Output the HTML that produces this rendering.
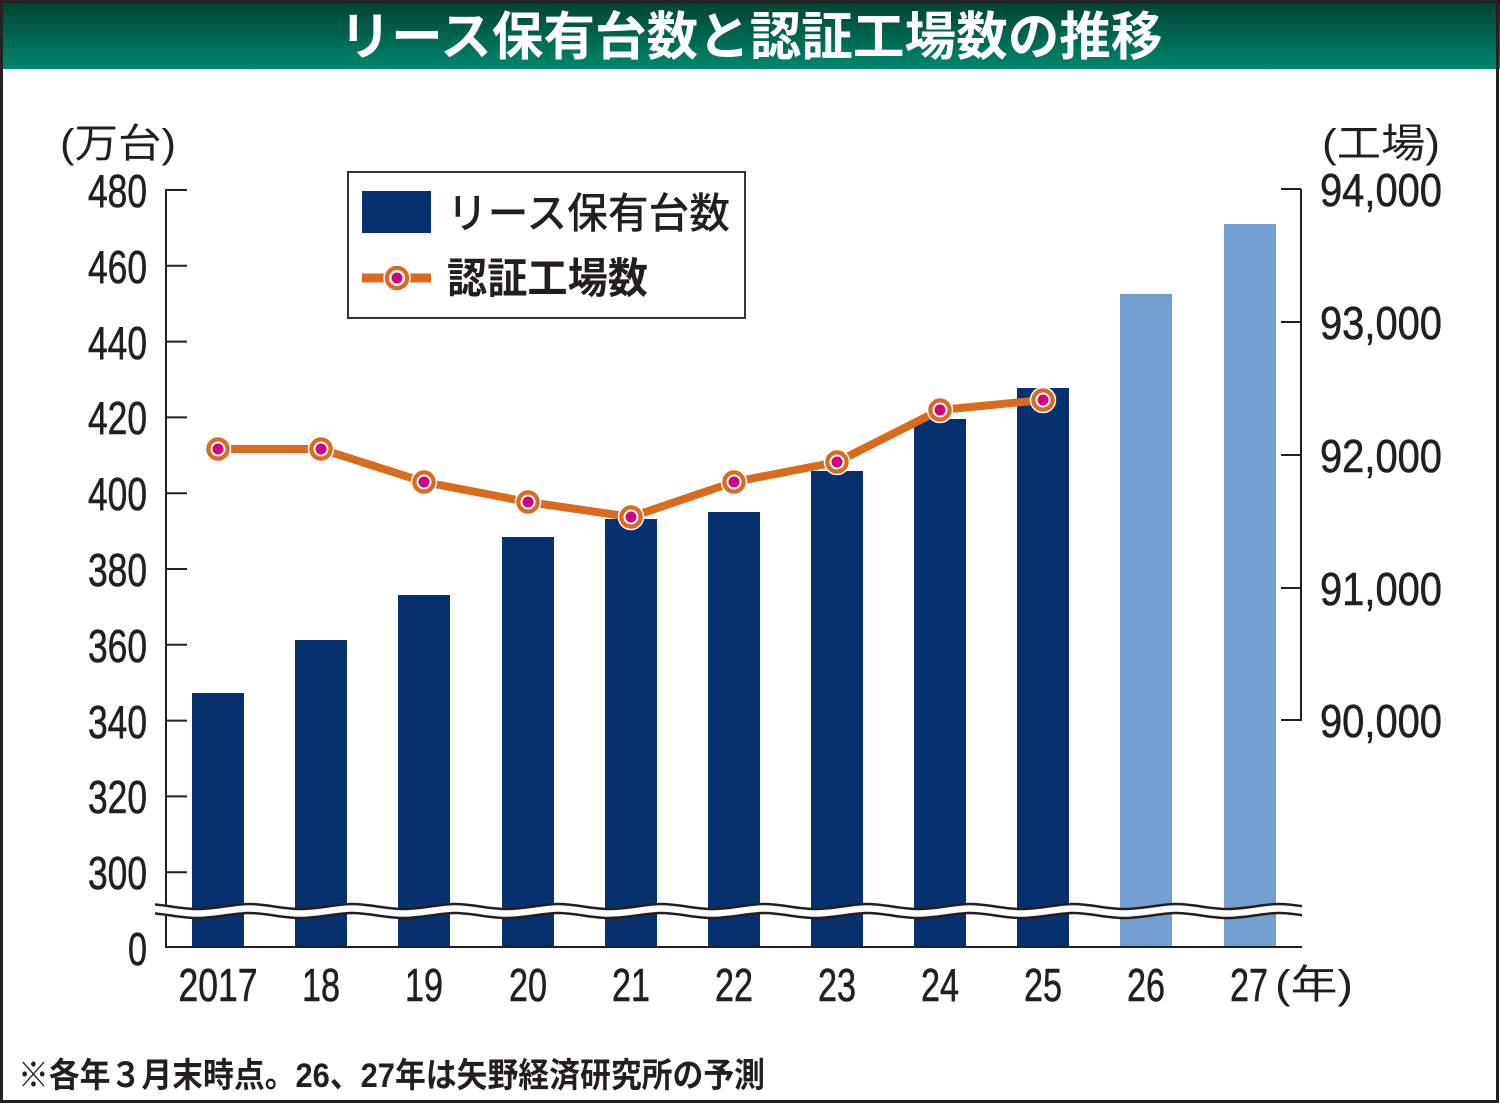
<!DOCTYPE html>
<html><head><meta charset="utf-8">
<style>
html,body{margin:0;padding:0;background:#fff;}
svg{display:block;}
.num{font-family:"Liberation Sans",sans-serif;fill:#231f20;font-size:46px;stroke:#231f20;stroke-width:0.6px;}
.jp{font-family:"Liberation Sans","Noto Sans CJK JP",sans-serif;fill:#231f20;}
</style></head>
<body>
<svg width="1500" height="1105" viewBox="0 0 1500 1105" xmlns="http://www.w3.org/2000/svg">
<defs>
<linearGradient id="tg" x1="0" y1="0" x2="0" y2="1">
<stop offset="0" stop-color="#00402f"/>
<stop offset="1" stop-color="#00876d"/>
</linearGradient>
<clipPath id="wc"><rect x="155" y="880" width="1147" height="60"/></clipPath>
<path id="wv" d="M94 0 C112.5 0 131.5 -5 145.5 -5 C164 -5 178.5 0 197 0 C215.5 0 234.5 -5 248.5 -5 C267 -5 281.5 0 300 0 C318.5 0 337.5 -5 351.5 -5 C370 -5 384.5 0 403 0 C421.5 0 440.5 -5 454.5 -5 C473 -5 487.5 0 506 0 C524.5 0 543.5 -5 557.5 -5 C576 -5 590.5 0 609 0 C627.5 0 646.5 -5 660.5 -5 C679 -5 693.5 0 712 0 C730.5 0 749.5 -5 763.5 -5 C782 -5 796.5 0 815 0 C833.5 0 852.5 -5 866.5 -5 C885 -5 899.5 0 918 0 C936.5 0 955.5 -5 969.5 -5 C988 -5 1002.5 0 1021 0 C1039.5 0 1058.5 -5 1072.5 -5 C1091 -5 1105.5 0 1124 0 C1142.5 0 1161.5 -5 1175.5 -5 C1194 -5 1208.5 0 1227 0 C1245.5 0 1264.5 -5 1278.5 -5 C1297 -5 1311.5 0 1330 0"/>
</defs>
<rect x="0" y="0" width="1500" height="1105" fill="#fff"/>
<!-- title bar -->
<rect x="0" y="0" width="1500" height="69" fill="url(#tg)"/>
<rect x="0" y="0" width="1500" height="3" fill="#0a1a18"/>
<text x="751" y="55" text-anchor="middle" textLength="823" lengthAdjust="spacingAndGlyphs" font-family="Liberation Sans, Noto Sans CJK JP, sans-serif" font-weight="700" font-size="52" fill="#fff">リース保有台数と認証工場数の推移</text>
<!-- frame -->
<rect x="1.5" y="1.5" width="1496" height="1100" fill="none" stroke="#222" stroke-width="3"/>

<!-- unit labels -->
<text class="jp" x="60" y="157" font-size="40" textLength="116" lengthAdjust="spacingAndGlyphs">(万台)</text>
<text class="jp" x="1322" y="157" font-size="40" textLength="118" lengthAdjust="spacingAndGlyphs">(工場)</text>

<!-- bars -->
<g fill="#07306e">
<rect x="192" y="693" width="52" height="254"/>
<rect x="295" y="640" width="52" height="307"/>
<rect x="398" y="595" width="52" height="352"/>
<rect x="502" y="537" width="52" height="410"/>
<rect x="605" y="519" width="52" height="428"/>
<rect x="708" y="512" width="52" height="435"/>
<rect x="811" y="471" width="52" height="476"/>
<rect x="914" y="419" width="52" height="528"/>
<rect x="1017" y="388" width="52" height="559"/>
</g>
<g fill="#729fcf">
<rect x="1120" y="294" width="52" height="653"/>
<rect x="1224" y="224" width="52" height="723"/>
</g>

<!-- left axis -->
<g stroke="#231f20" stroke-width="2" fill="none">
<line x1="166" y1="189" x2="166" y2="948"/>
<line x1="165" y1="947" x2="1302" y2="947"/>
<line x1="166" y1="190" x2="187" y2="190"/>
<line x1="166" y1="265.8" x2="187" y2="265.8"/>
<line x1="166" y1="341.6" x2="187" y2="341.6"/>
<line x1="166" y1="417.4" x2="187" y2="417.4"/>
<line x1="166" y1="493.2" x2="187" y2="493.2"/>
<line x1="166" y1="569" x2="187" y2="569"/>
<line x1="166" y1="644.8" x2="187" y2="644.8"/>
<line x1="166" y1="720.6" x2="187" y2="720.6"/>
<line x1="166" y1="796.4" x2="187" y2="796.4"/>
<line x1="166" y1="872.2" x2="187" y2="872.2"/>
<!-- right axis -->
<line x1="1301" y1="189" x2="1301" y2="721"/>
<line x1="1281" y1="189" x2="1301" y2="189"/>
<line x1="1281" y1="322" x2="1301" y2="322"/>
<line x1="1281" y1="455" x2="1301" y2="455"/>
<line x1="1281" y1="588" x2="1301" y2="588"/>
<line x1="1281" y1="720" x2="1301" y2="720"/>
</g>

<!-- left tick labels -->
<g class="num" text-anchor="end">
<text x="147" y="207" textLength="59" lengthAdjust="spacingAndGlyphs">480</text>
<text x="147" y="283" textLength="59" lengthAdjust="spacingAndGlyphs">460</text>
<text x="147" y="359" textLength="59" lengthAdjust="spacingAndGlyphs">440</text>
<text x="147" y="434" textLength="59" lengthAdjust="spacingAndGlyphs">420</text>
<text x="147" y="510" textLength="59" lengthAdjust="spacingAndGlyphs">400</text>
<text x="147" y="586" textLength="59" lengthAdjust="spacingAndGlyphs">380</text>
<text x="147" y="662" textLength="59" lengthAdjust="spacingAndGlyphs">360</text>
<text x="147" y="738" textLength="59" lengthAdjust="spacingAndGlyphs">340</text>
<text x="147" y="813" textLength="59" lengthAdjust="spacingAndGlyphs">320</text>
<text x="147" y="889" textLength="59" lengthAdjust="spacingAndGlyphs">300</text>
<text x="147" y="965" textLength="19" lengthAdjust="spacingAndGlyphs">0</text>
</g>

<!-- right tick labels -->
<g class="num" font-size="44">
<text x="1320" y="206" textLength="122" lengthAdjust="spacingAndGlyphs">94,000</text>
<text x="1320" y="339" textLength="122" lengthAdjust="spacingAndGlyphs">93,000</text>
<text x="1320" y="472" textLength="122" lengthAdjust="spacingAndGlyphs">92,000</text>
<text x="1320" y="605" textLength="122" lengthAdjust="spacingAndGlyphs">91,000</text>
<text x="1320" y="737" textLength="122" lengthAdjust="spacingAndGlyphs">90,000</text>
</g>

<!-- x labels -->
<g class="num" text-anchor="middle">
<text x="218" y="1001" textLength="79" lengthAdjust="spacingAndGlyphs">2017</text>
<text x="321" y="1001" textLength="38" lengthAdjust="spacingAndGlyphs">18</text>
<text x="424" y="1001" textLength="38" lengthAdjust="spacingAndGlyphs">19</text>
<text x="528" y="1001" textLength="38" lengthAdjust="spacingAndGlyphs">20</text>
<text x="631" y="1001" textLength="38" lengthAdjust="spacingAndGlyphs">21</text>
<text x="734" y="1001" textLength="38" lengthAdjust="spacingAndGlyphs">22</text>
<text x="837" y="1001" textLength="38" lengthAdjust="spacingAndGlyphs">23</text>
<text x="940" y="1001" textLength="38" lengthAdjust="spacingAndGlyphs">24</text>
<text x="1043" y="1001" textLength="38" lengthAdjust="spacingAndGlyphs">25</text>
<text x="1146" y="1001" textLength="38" lengthAdjust="spacingAndGlyphs">26</text>
<text x="1249" y="1001" textLength="38" lengthAdjust="spacingAndGlyphs">27</text>
</g>
<text class="jp" x="1275" y="998" font-size="40" textLength="78" lengthAdjust="spacingAndGlyphs">(年)</text>

<!-- break wave -->
<g clip-path="url(#wc)" fill="none">
<use href="#wv" transform="translate(0,913)" stroke="#fff" stroke-width="9"/>
<use href="#wv" transform="translate(0,909)" stroke="#231f20" stroke-width="2.5"/>
<use href="#wv" transform="translate(0,918)" stroke="#231f20" stroke-width="2.5"/>
</g>

<!-- line series -->
<polyline points="218,449 321,449 424,482 528,502 631,517 734,482 837,462 940,410 1043,400" fill="none" stroke="#d96a1e" stroke-width="8" stroke-linejoin="round"/>
<g>
<g transform="translate(218,449)"><circle r="12.5" fill="#d96a1e" stroke="#fff" stroke-width="1.5"/><circle r="7.5" fill="#fff"/><circle r="5.5" fill="#d2007f"/></g>
<g transform="translate(321,449)"><circle r="12.5" fill="#d96a1e" stroke="#fff" stroke-width="1.5"/><circle r="7.5" fill="#fff"/><circle r="5.5" fill="#d2007f"/></g>
<g transform="translate(424,482)"><circle r="12.5" fill="#d96a1e" stroke="#fff" stroke-width="1.5"/><circle r="7.5" fill="#fff"/><circle r="5.5" fill="#d2007f"/></g>
<g transform="translate(528,502)"><circle r="12.5" fill="#d96a1e" stroke="#fff" stroke-width="1.5"/><circle r="7.5" fill="#fff"/><circle r="5.5" fill="#d2007f"/></g>
<g transform="translate(631,517)"><circle r="12.5" fill="#d96a1e" stroke="#fff" stroke-width="1.5"/><circle r="7.5" fill="#fff"/><circle r="5.5" fill="#d2007f"/></g>
<g transform="translate(734,482)"><circle r="12.5" fill="#d96a1e" stroke="#fff" stroke-width="1.5"/><circle r="7.5" fill="#fff"/><circle r="5.5" fill="#d2007f"/></g>
<g transform="translate(837,462)"><circle r="12.5" fill="#d96a1e" stroke="#fff" stroke-width="1.5"/><circle r="7.5" fill="#fff"/><circle r="5.5" fill="#d2007f"/></g>
<g transform="translate(940,410)"><circle r="12.5" fill="#d96a1e" stroke="#fff" stroke-width="1.5"/><circle r="7.5" fill="#fff"/><circle r="5.5" fill="#d2007f"/></g>
<g transform="translate(1043,400)"><circle r="12.5" fill="#d96a1e" stroke="#fff" stroke-width="1.5"/><circle r="7.5" fill="#fff"/><circle r="5.5" fill="#d2007f"/></g>
</g>

<!-- legend -->
<rect x="348" y="172" width="397" height="146" fill="#fff" stroke="#333" stroke-width="2"/>
<rect x="362" y="191" width="69" height="42" fill="#07306e"/>
<text class="jp" x="447" y="228" font-size="42" font-weight="500" textLength="283" lengthAdjust="spacingAndGlyphs">リース保有台数</text>
<line x1="362" y1="278" x2="431" y2="278" stroke="#d96a1e" stroke-width="9"/>
<g transform="translate(397,278)"><circle r="13" fill="#d96a1e" stroke="#fff" stroke-width="1.5"/><circle r="8" fill="#fff"/><circle r="5.5" fill="#d2007f"/></g>
<text class="jp" x="447" y="293" font-size="42" font-weight="700" textLength="201" lengthAdjust="spacingAndGlyphs">認証工場数</text>

<!-- footnote -->
<text class="jp" x="18" y="1087" font-size="34" font-weight="700" textLength="747" lengthAdjust="spacingAndGlyphs">※各年３月末時点。26、27年は矢野経済研究所の予測</text>
</svg>
</body></html>
